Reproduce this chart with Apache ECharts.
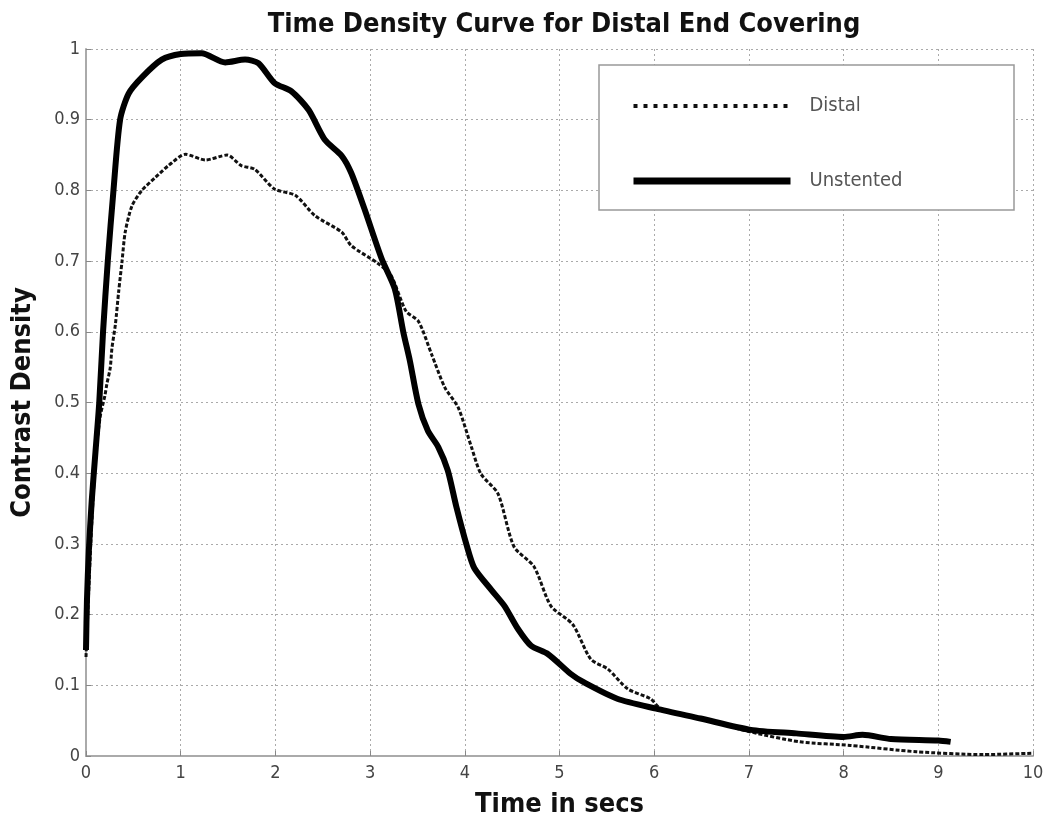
<!DOCTYPE html>
<html>
<head>
<meta charset="utf-8">
<script src="https://cdn.jsdelivr.net/npm/echarts@6/dist/echarts.min.js"></script>
<style>
html,body{margin:0;padding:0;background:#fff;}
#chart{width:1053px;height:823px;}
</style>
</head>
<body>
<div id="chart"></div>
<script>
var chartTitle = 'Time Density Curve for Distal End Covering';
var xAxisName = 'Time in secs';
var yAxisName = 'Contrast Density';
var seriesNames = ['Distal', 'Unstented'];

var unstentedTime  = [0.0, 0.01, 0.03, 0.06, 0.1, 0.14, 0.18, 0.23, 0.29, 0.36, 0.45, 0.59, 0.8, 1.0, 1.22, 1.47, 1.68, 1.82, 1.99, 2.17, 2.35, 2.52, 2.7, 2.8, 2.94, 3.12, 3.26, 3.35, 3.42, 3.51, 3.61, 3.72, 3.82, 3.91, 4.02, 4.1, 4.28, 4.42, 4.56, 4.7, 4.88, 5.12, 5.26, 5.61, 6.02, 6.49, 7.02, 7.5, 8.0, 8.2, 8.5, 9.0, 9.13];
var unstentedValue = [0.15, 0.22, 0.29, 0.36, 0.43, 0.5, 0.6, 0.7, 0.8, 0.9, 0.937, 0.96, 0.985, 0.993, 0.994, 0.981, 0.985, 0.98, 0.952, 0.94, 0.914, 0.872, 0.849, 0.825, 0.774, 0.704, 0.661, 0.6, 0.559, 0.498, 0.46, 0.437, 0.404, 0.353, 0.298, 0.266, 0.235, 0.212, 0.18, 0.156, 0.144, 0.116, 0.104, 0.081, 0.067, 0.053, 0.037, 0.032, 0.027, 0.03, 0.024, 0.022, 0.02];

var distalTime  = [0.0, 0.05, 0.1, 0.15, 0.2, 0.22, 0.256, 0.274, 0.31, 0.345, 0.38, 0.414, 0.485, 0.59, 0.73, 0.87, 1.05, 1.26, 1.49, 1.64, 1.78, 1.99, 2.21, 2.42, 2.7, 2.8, 3.08, 3.22, 3.38, 3.51, 3.65, 3.79, 3.93, 4.07, 4.17, 4.35, 4.52, 4.73, 4.91, 5.14, 5.33, 5.51, 5.72, 5.96, 6.07, 6.49, 7.02, 7.54, 8.07, 8.77, 9.48, 10.0];
var distalValue = [0.14, 0.3, 0.42, 0.48, 0.51, 0.526, 0.549, 0.577, 0.61, 0.657, 0.699, 0.741, 0.778, 0.8, 0.818, 0.835, 0.851, 0.843, 0.85, 0.835, 0.83, 0.802, 0.793, 0.764, 0.741, 0.722, 0.697, 0.68, 0.629, 0.615, 0.568, 0.521, 0.493, 0.437, 0.399, 0.371, 0.296, 0.268, 0.212, 0.186, 0.137, 0.123, 0.095, 0.081, 0.067, 0.053, 0.034, 0.02, 0.015, 0.006, 0.002, 0.004];

function pairs(t, v) { return t.map(function (x, i) { return [x, v[i]]; }); }

var font = "'Liberation Sans Narrow', 'DejaVu Sans Condensed', 'Liberation Sans', sans-serif";
var chart = echarts.init(document.getElementById('chart'));
chart.setOption({
  backgroundColor: '#fff',
  animation: false,
  title: {
    text: chartTitle,
    left: 559, top: 6, textAlign: 'center',
    textStyle: { fontFamily: font, fontWeight: 'bold', fontSize: 27, color: '#111' }
  },
  grid: { left: 86, right: 20, top: 49, bottom: 62, containLabel: false },
  xAxis: {
    type: 'value', min: 0, max: 10, interval: 1,
    name: xAxisName, nameLocation: 'middle', nameGap: 35,
    nameTextStyle: { fontFamily: font, fontWeight: 'bold', fontSize: 27, color: '#111' },
    axisLine: { show: true, lineStyle: { color: '#aaa', width: 2 } },
    axisTick: { show: true, inside: true, length: 5, lineStyle: { color: '#888' } },
    axisLabel: { fontFamily: font, fontSize: 18, color: '#444', margin: 8 },
    splitLine: { show: true, lineStyle: { color: '#aaa', type: [2, 3], width: 1 } }
  },
  yAxis: {
    type: 'value', min: 0, max: 1, interval: 0.1,
    name: yAxisName, nameLocation: 'middle', nameGap: 50,
    nameTextStyle: { fontFamily: font, fontWeight: 'bold', fontSize: 27, color: '#111' },
    axisLine: { show: true, lineStyle: { color: '#aaa', width: 2 } },
    axisTick: { show: true, inside: true, length: 5, lineStyle: { color: '#888' } },
    axisLabel: { fontFamily: font, fontSize: 18, color: '#444', margin: 6 },
    splitLine: { show: true, lineStyle: { color: '#aaa', type: [2, 3], width: 1 } }
  },
  graphic: [{
    type: 'rect', z: 100,
    shape: { x: 599, y: 65, width: 415, height: 145 },
    style: { fill: '#fff', stroke: '#999', lineWidth: 1.5 }
  }],
  legend: {
    z: 110, orient: 'vertical', left: 630, top: 96, padding: 0,
    itemWidth: 157, itemHeight: 14, itemGap: 55,
    itemStyle: { opacity: 0 },
    data: [
      { name: seriesNames[0], lineStyle: { color: '#111', width: 4, type: [4, 6] } },
      { name: seriesNames[1], lineStyle: { color: '#000', width: 7, type: 'solid' } }
    ],
    textStyle: { fontFamily: font, fontSize: 20, color: '#555', padding: [0, 0, 0, 14] }
  },
  series: [
    {
      name: seriesNames[0], type: 'line', data: pairs(distalTime, distalValue),
      showSymbol: false, symbol: 'none', smooth: 0.25,
      color: '#111',
      lineStyle: { color: '#111', width: 3, type: [4, 2] }
    },
    {
      name: seriesNames[1], type: 'line', data: pairs(unstentedTime, unstentedValue),
      showSymbol: false, symbol: 'none', smooth: 0.25,
      color: '#000',
      lineStyle: { color: '#000', width: 6 }
    }
  ]
});
</script>
</body>
</html>
